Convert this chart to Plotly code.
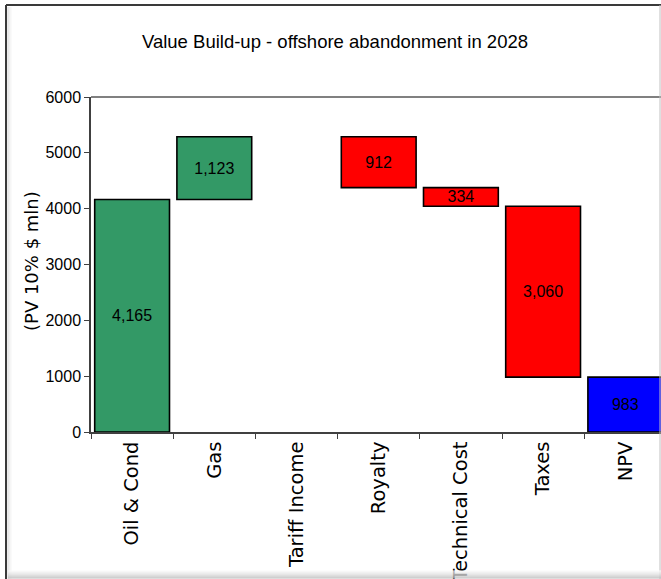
import plotly.graph_objects as go

# Waterfall components (PV 10%, $ mln)
categories = ["Oil & Cond", "Gas", "Tariff Income", "Royalty", "Technical Cost", "Taxes", "NPV"]
values = [4165, 1123, 0, -912, -334, -3060, 983]
kinds = ["gain", "gain", "gain", "loss", "loss", "loss", "total"]
labels = ["4,165", "1,123", "", "912", "334", "3,060", "983"]

colors = {"gain": "#339966", "loss": "#FF0000", "total": "#0000FF"}

# running base for each floating bar
bases = []
running = 0
for v, k in zip(values, kinds):
    if k == "total":
        bases.append(0)
    else:
        bases.append(running)
        running += v

W, H = 661, 579
L, R, T, B = 91, 0, 97, 147
pw, ph = W - L - R, H - T - B


def px_x(x):
    return (x - L) / pw


def px_y(y):
    return (H - B - y) / ph


sans = "Liberation Sans, Arial"

fig = go.Figure()
fig.add_trace(go.Bar(
    x=categories,
    y=values,
    base=bases,
    width=0.91,
    marker=dict(
        color=[colors[k] for k in kinds],
        line=dict(color="#000000", width=[0 if v == 0 else 1.6 for v in values]),
    ),
    text=labels,
    textposition="inside",
    insidetextanchor="middle",
    textangle=0,
    insidetextfont=dict(family=sans, size=16, color="#000000"),
    hoverinfo="skip",
    showlegend=False,
))

shapes = []
# plot-area top border
shapes.append(dict(type="line", xref="paper", yref="paper",
                   x0=0, x1=1, y0=1, y1=1, line=dict(color="#808080", width=2)))
# outer chart frame
shapes.append(dict(type="line", xref="paper", yref="paper",
                   x0=px_x(6), x1=px_x(6), y0=px_y(5), y1=px_y(579),
                   line=dict(color="#3a3a3a", width=2)))
shapes.append(dict(type="line", xref="paper", yref="paper",
                   x0=px_x(6), x1=px_x(661), y0=px_y(5), y1=px_y(5),
                   line=dict(color="#3a3a3a", width=2)))
shapes.append(dict(type="line", xref="paper", yref="paper",
                   x0=px_x(660), x1=px_x(660), y0=px_y(5), y1=px_y(579),
                   line=dict(color="#c0c0c0", width=1)))
# soft inner shading along left and bottom edges
left_shades = ["#d8d8d8", "#e4e4e4", "#eeeeee", "#f6f6f6"]
for i, c in enumerate(left_shades):
    x = 8 + i
    shapes.append(dict(type="line", xref="paper", yref="paper",
                       x0=px_x(x), x1=px_x(x), y0=px_y(7), y1=px_y(579),
                       line=dict(color=c, width=1)))
bottom_shades = ["#f8f8f8", "#f2f2f2", "#ebebeb", "#e3e3e3", "#dadada", "#d0d0d0", "#c6c6c6", "#bcbcbc"]
for i, c in enumerate(bottom_shades):
    y = 571 + i
    shapes.append(dict(type="line", xref="paper", yref="paper",
                       x0=px_x(8), x1=px_x(661), y0=px_y(y), y1=px_y(y),
                       line=dict(color=c, width=1)))

fig.update_layout(
    width=W, height=H,
    margin=dict(l=L, r=R, t=T, b=B, autoexpand=False),
    paper_bgcolor="#ffffff",
    plot_bgcolor="#ffffff",
    bargap=0.09,
    uniformtext=dict(minsize=16, mode="show"),
    title=dict(
        text="Value Build-up - offshore abandonment in 2028",
        x=335 / W, xref="container", xanchor="center",
        y=1 - 42 / H, yref="container", yanchor="middle",
        font=dict(family=sans, size=18.5, color="#000000"),
    ),
    xaxis=dict(
        range=[-0.5, -0.5 + pw / 82.2],
        showgrid=False,
        showline=True, linecolor="#404040", linewidth=1.5,
        ticks="outside", ticklen=5, tickcolor="#404040", tickwidth=1,
        tickson="boundaries",
        tickangle=-90,
        tickfont=dict(family="DejaVu Sans", size=19.5, color="#000000"),
        fixedrange=True,
    ),
    yaxis=dict(
        range=[0, 6000],
        tickvals=[0, 1000, 2000, 3000, 4000, 5000, 6000],
        ticktext=["0", "1000", "2000", "3000", "4000", "5000", "6000"],
        showgrid=False, zeroline=False,
        showline=True, linecolor="#404040", linewidth=1.5,
        ticks="outside", ticklen=5, tickcolor="#404040", tickwidth=1,
        tickfont=dict(family=sans, size=16, color="#000000"),
        fixedrange=True,
    ),
    annotations=[dict(
        text="(PV 10% $ mln)", textangle=-90,
        xref="paper", yref="paper", x=px_x(31), y=px_y(261),
        xanchor="center", yanchor="middle", showarrow=False,
        font=dict(family="DejaVu Sans", size=18, color="#000000"),
    )],
    shapes=shapes,
)

fig.write_html("out.html")
